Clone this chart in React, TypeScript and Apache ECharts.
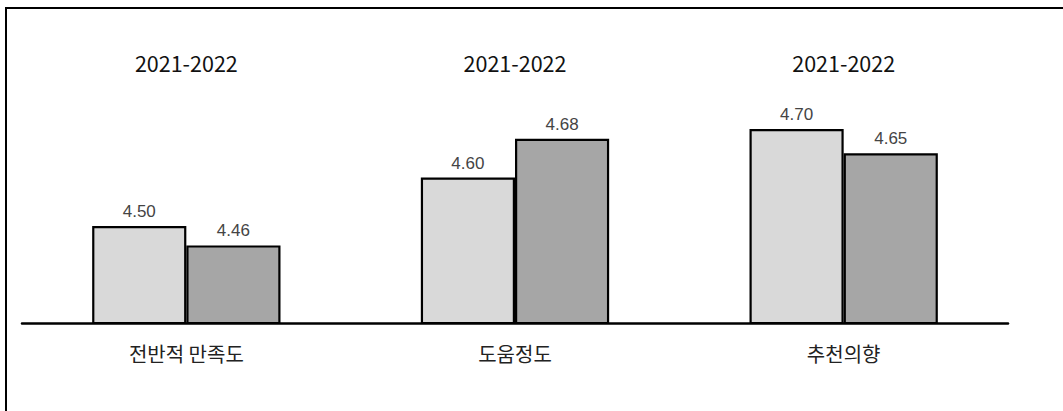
import React, { useEffect, useRef } from "react";
import * as echarts from "echarts";

const categories = ["전반적 만족도", "도움정도", "추천의향"];
const series2021 = [4.5, 4.6, 4.7];
const series2022 = [4.46, 4.68, 4.65];
const groupTitles = ["2021-2022", "2021-2022", "2021-2022"];

export default function App() {
  const ref = useRef<HTMLDivElement>(null);
  useEffect(() => {
    if (!ref.current) return;
    const chart = echarts.init(ref.current, null, { renderer: "svg" });
    const labelStyle = {
      show: true,
      position: "top" as const,
      distance: 6,
      color: "#444",
      fontSize: 17,
      fontFamily: "'Liberation Sans', Arial, sans-serif",
      formatter: (p: any) => Number(p.value).toFixed(2),
    };
    chart.setOption({
      animation: false,
      backgroundColor: "#fff",
      grid: { left: 22, right: 55, top: 80.5, bottom: 88 },
      xAxis: {
        type: "category",
        data: categories,
        axisLine: { lineStyle: { color: "#000", width: 2.5 } },
        axisTick: { show: false },
        axisLabel: {
          margin: 20,
          color: "#222",
          fontSize: 20,
          fontFamily: "'Noto Sans CJK KR', sans-serif",
        },
      },
      yAxis: {
        type: "value",
        min: 4.3,
        max: 4.8,
        show: false,
        splitLine: { show: false },
      },
      series: [
        {
          type: "bar",
          name: "2021",
          data: series2021,
          barGap: "0%",
          barCategoryGap: "42.7%",
          itemStyle: { color: "#d9d9d9", borderColor: "#000", borderWidth: 2.2 },
          label: labelStyle,
        },
        {
          type: "bar",
          name: "2022",
          data: series2022,
          itemStyle: { color: "#a6a6a6", borderColor: "#000", borderWidth: 2.2 },
          label: labelStyle,
        },
      ],
    });
    const titles = categories.map((c, i) => {
      const x = chart.convertToPixel({ xAxisIndex: 0 }, c) as number;
      return {
        type: "text",
        x,
        y: 62,
        style: {
          text: groupTitles[i],
          textAlign: "center",
          textVerticalAlign: "middle",
          fontSize: 21.5,
          fontFamily: "'Noto Sans CJK KR', sans-serif",
          fill: "#111",
        },
      };
    });
    chart.setOption({
      graphic: [
        {
          type: "rect",
          shape: { x: 6, y: 8, width: 1100, height: 500 },
          style: { fill: "none", stroke: "#000", lineWidth: 2 },
          silent: true,
        },
        ...titles,
      ],
    });
    return () => chart.dispose();
  }, []);
  return (
    <div
      ref={ref}
      style={{ position: "fixed", left: 0, top: 0, width: 1063, height: 411 }}
    />
  );
}
